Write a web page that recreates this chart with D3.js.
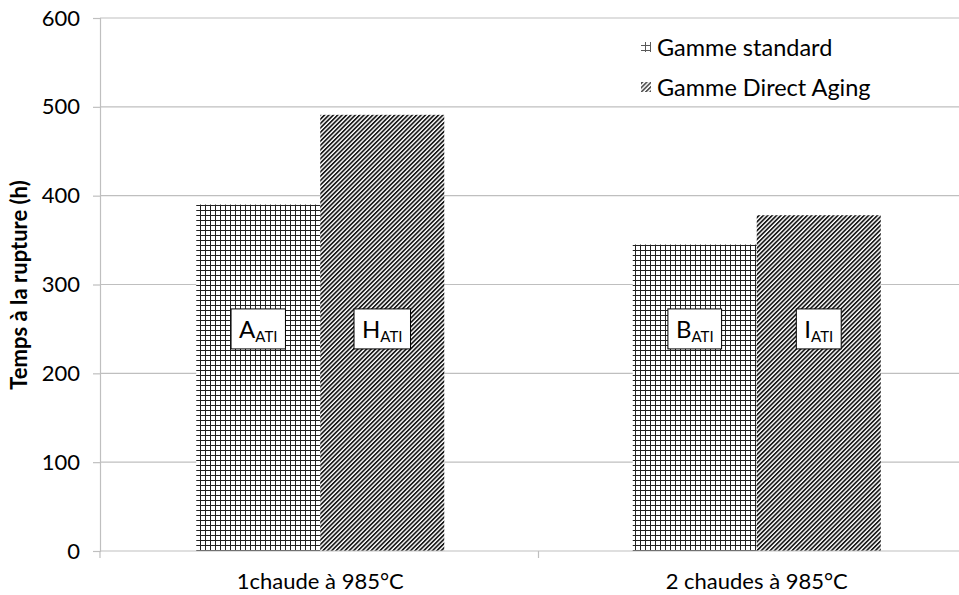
<!DOCTYPE html>
<html><head><meta charset="utf-8">
<script src="https://cdn.jsdelivr.net/npm/d3@7"></script>
<style>html,body{margin:0;padding:0;background:#fff;}svg{display:block;}</style>
</head><body>
<div id="chart"></div>
<script>
const categories = ["1chaude à 985°C", "2 chaudes à 985°C"];
const seriesNames = ["Gamme standard", "Gamme Direct Aging"];
const standardValues = [390, 345];
const directAgingValues = [491, 378];
const barLabels = [["A", "H"], ["B", "I"]];
const labelSub = "ATI";
const labelValue = 250;
const yTicks = [0, 100, 200, 300, 400, 500, 600];
const yTitle = "Temps à la rupture (h)";

const W = 959, H = 595;
const FONT = "Lato, 'Open Sans', sans-serif";
const svg = d3.select("#chart").append("svg").attr("width", W).attr("height", H);

const defs = svg.append("defs");
const grid = defs.append("pattern").attr("id", "grid").attr("patternUnits", "userSpaceOnUse")
  .attr("width", 5).attr("height", 5);
grid.append("rect").attr("width", 5).attr("height", 5).attr("fill", "#fff");
grid.append("rect").attr("x", 0).attr("y", 0).attr("width", 1).attr("height", 5).attr("fill", "#222");
grid.append("rect").attr("x", 0).attr("y", 0).attr("width", 5).attr("height", 1).attr("fill", "#222");

const diag = defs.append("pattern").attr("id", "diag").attr("patternUnits", "userSpaceOnUse")
  .attr("width", 3.1).attr("height", 10).attr("patternTransform", "rotate(45)");
diag.append("rect").attr("width", 3.1).attr("height", 10).attr("fill", "#fff");
diag.append("rect").attr("width", 1.7).attr("height", 10).attr("fill", "#1a1a1a");

const x = d3.scaleBand().domain(categories).range([102, 975]);
const inner = d3.scaleBand().domain(seriesNames).range([0, x.bandwidth()]).paddingOuter(0.76).paddingInner(0);
const y = d3.scaleLinear().domain([0, 600]).range([551, 18]);

// gridlines
svg.append("g").selectAll("line").data(yTicks.filter(d => d > 0)).join("line")
  .attr("x1", 100).attr("x2", W).attr("y1", d => y(d)).attr("y2", d => y(d))
  .attr("stroke", "#bfbfbf").attr("stroke-width", 1.2);

// y axis
const yAxis = svg.append("g").attr("transform", "translate(100,0)")
  .call(d3.axisLeft(y).tickValues(yTicks).tickSize(7).tickPadding(13));
yAxis.select(".domain").attr("stroke", "#bfbfbf").attr("stroke-width", 1.2);
yAxis.selectAll(".tick line").attr("stroke", "#bfbfbf").attr("stroke-width", 1.2);
yAxis.selectAll("text").attr("font-family", FONT).attr("font-size", 22).attr("fill", "#000");

const series = [
  {name: seriesNames[0], values: standardValues, fill: "url(#grid)"},
  {name: seriesNames[1], values: directAgingValues, fill: "url(#diag)"}
];

const bars = svg.append("g");
series.forEach((s, si) => {
  bars.selectAll(null).data(categories).join("rect")
    .attr("x", c => x(c) + inner(s.name))
    .attr("y", (c, i) => y(s.values[i]))
    .attr("width", inner.bandwidth())
    .attr("height", (c, i) => y(0) - y(s.values[i]))
    .attr("fill", s.fill);
});

// x axis
const xAxis = svg.append("g").attr("transform", "translate(0,551)");
xAxis.append("line").attr("x1", 100).attr("x2", W).attr("stroke", "#bfbfbf").attr("stroke-width", 1.2);
const xTickPos = [100, x(categories[1])];
xAxis.selectAll(".xt").data(xTickPos).join("line").attr("class", "xt")
  .attr("x1", d => d).attr("x2", d => d).attr("y1", 0).attr("y2", 7)
  .attr("stroke", "#bfbfbf").attr("stroke-width", 1.2);
xAxis.selectAll("text").data(categories).join("text")
  .attr("x", c => x(c) + x.bandwidth() / 2).attr("y", 38)
  .attr("text-anchor", "middle").attr("font-family", FONT).attr("font-size", 22).attr("fill", "#000")
  .text(c => c);

// label boxes
categories.forEach((c, ci) => {
  seriesNames.forEach((sn, si) => {
    const cx = x(c) + inner(sn) + inner.bandwidth() / 2;
    const cy = y(labelValue);
    const g = svg.append("g");
    const t = g.append("text").attr("font-family", FONT).attr("fill", "#000").attr("y", cy + 9);
    t.append("tspan").attr("font-size", 24).text(barLabels[ci][si]);
    t.append("tspan").attr("font-size", 15).attr("dy", 4).text(labelSub);
    const bb = t.node().getBBox();
    t.attr("x", cx - bb.width / 2);
    g.insert("rect", "text").attr("x", cx - bb.width / 2 - 8).attr("y", cy - 20)
      .attr("width", bb.width + 16).attr("height", 40)
      .attr("fill", "#fff").attr("stroke", "#000").attr("stroke-width", 1);
  });
});

// legend
const legend = svg.append("g");
const legendPatch = [
  {fill: "url(#grid)", y: 48},
  {fill: "url(#diag)", y: 88}
];
series.forEach((s, i) => {
  legend.append("rect").attr("x", 641).attr("y", legendPatch[i].y - 6).attr("width", 10).attr("height", 10)
    .attr("fill", s.fill).attr("opacity", 0.75);
  legend.append("text").attr("x", 657).attr("y", legendPatch[i].y + 8)
    .attr("font-family", FONT).attr("font-size", 23.5).attr("fill", "#000").text(s.name);
});

// y title
svg.append("text").attr("transform", "translate(27,285) rotate(-90)")
  .attr("text-anchor", "middle").attr("font-family", FONT).attr("font-size", 22).attr("font-weight", "bold")
  .attr("fill", "#000").text(yTitle);
</script>
</body></html>
